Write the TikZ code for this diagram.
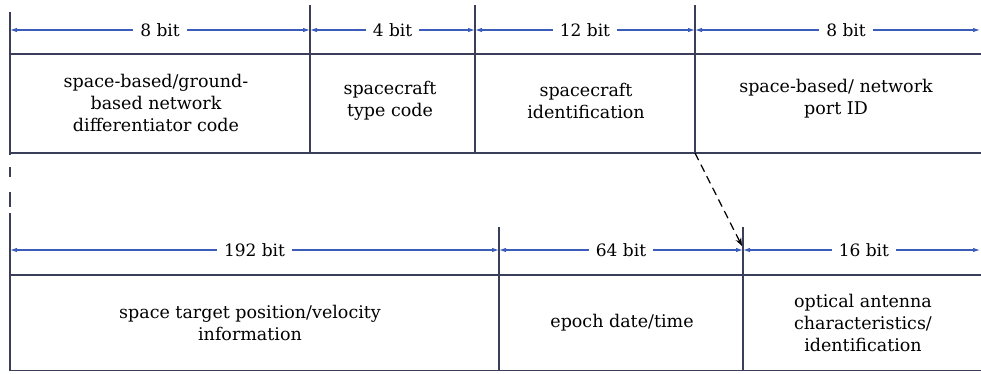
\documentclass[tikz,border=0pt]{standalone}
\usepackage{fontspec}
\setmainfont{DejaVu Serif}
\usetikzlibrary{arrows.meta}
\definecolor{frame}{HTML}{3A3E5A}
\definecolor{dim}{HTML}{3B5CB8}
\begin{document}
\begin{tikzpicture}[x=1pt,y=-1pt,
  frameline/.style={draw=frame,line width=1.3pt},
  dimline/.style={draw=dim,line width=1.1pt,
    {Latex[length=7pt,width=4.5pt]}-{Latex[length=7pt,width=4.5pt]}},
  dimlabel/.style={fill=white,text=black,inner xsep=7pt,inner ysep=1pt,
    font=\fontsize{17}{20}\selectfont},
  cell/.style={align=center,text=black,font=\fontsize{17.5}{22}\selectfont},
  linkarrow/.style={draw=black,line width=1.2pt,dash pattern=on 8pt off 5pt,
    -{Stealth[length=8pt,width=6pt]}},
]
\useasboundingbox (0,0) rectangle (981,373);

% ---- upper frame: 8 + 4 + 12 + 8 bit ----
\coordinate (ua) at (10,30);
\coordinate (ub) at (310,30);
\coordinate (uc) at (475,30);
\coordinate (ud) at (695,30);
\coordinate (ue) at (980,30);

\draw[frameline] (10,12) -- (10,155);
\draw[frameline] (310,5) -- (310,153);
\draw[frameline] (475,5) -- (475,153);
\draw[frameline] (695,5) -- (695,153);
\draw[frameline] (10,54) -- (981,54);
\draw[frameline] (10,153) -- (981,153);

\draw[dimline] (ua) -- node[dimlabel] (u1) {8 bit} (ub);
\draw[dimline] (ub) -- node[dimlabel] (u2) {4 bit} (uc);
\draw[dimline] (uc) -- node[dimlabel] (u3) {12 bit} (ud);
\draw[dimline] (ud) -- node[dimlabel,pos=0.53] (u4) {8 bit} (ue);

\node[cell] (netcode) at (156,103) {space-based/ground-\\based network\\differentiator code};
\node[cell] (sctype) at (390,101) {spacecraft\\type code};
\node[cell] (scid) at (586,101) {spacecraft\\identification};
\node[cell] (portid) at (836,99) {space-based/ network\\port ID};

% ---- lower frame: 192 + 64 + 16 bit ----
\coordinate (la) at (10,250);
\coordinate (lb) at (499,250);
\coordinate (lc) at (743,250);
\coordinate (ld) at (980,250);

% broken continuation of the left edge
\foreach \ya/\yb in {167/177, 192/207}
  \draw[frameline] (10,\ya) -- (10,\yb);
\draw[frameline] (10,213) -- (10,371);
\draw[frameline] (499,227) -- (499,371);
\draw[frameline] (743,227) -- (743,371);
\draw[frameline] (10,275) -- (981,275);
\draw[frameline] (10,370.5) -- (981,370.5);

\draw[dimline] (la) -- node[dimlabel] (l1) {192 bit} (lb);
\draw[dimline] (lb) -- node[dimlabel] (l2) {64 bit} (lc);
\draw[dimline] (lc) -- node[dimlabel,pos=0.51] (l3) {16 bit} (ld);

\node[cell] (posvel) at (250,323) {space target position/velocity\\information};
\node[cell] (epoch) at (622,323) {epoch date/time};
\node[cell] (antenna) at (863,323) {optical antenna\\characteristics/\\identification};

% ---- link between the two frames ----
\coordinate (linkstart) at (695,153);
\coordinate (linkend) at (742,246);
\draw[linkarrow] (linkstart) -- (linkend);
\end{tikzpicture}
\end{document}
